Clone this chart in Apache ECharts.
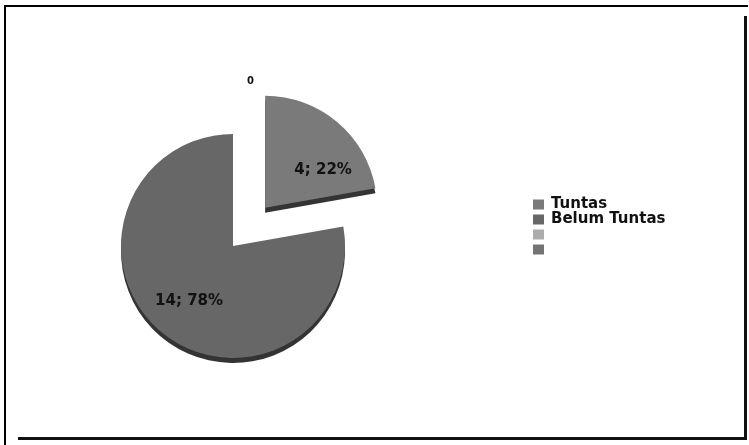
<!DOCTYPE html>
<html>
<head>
<meta charset="utf-8">
<style>
  html, body { margin: 0; padding: 0; background: #fff; }
  #chart { width: 749px; height: 445px; }
</style>
<script src="https://cdn.jsdelivr.net/npm/echarts@6/dist/echarts.min.js"></script>
</head>
<body>
<div id="chart"></div>
<script>
// Categories and counts of students
const categories = ['Tuntas', 'Belum Tuntas', ' ', '  '];
const counts = [4, 14, 0, '-'];
const sliceColors = ['#7a7a7a', '#676767', '#acacac', '#747474'];
const edgeColor = '#343434';

const center = [233, 246];
const radius = 112;
const depth = 5;

const chart = echarts.init(document.getElementById('chart'), null, { renderer: 'canvas' });

const faceData = categories.map((name, i) => {
  const item = {
    name: name,
    value: counts[i],
    itemStyle: { color: sliceColors[i] }
  };
  if (i === 0) item.selected = true;
  if (counts[i] === 0) {
    item.label = {
      position: 'outside',
      fontSize: 10,
      formatter: '{c}'
    };
    item.labelLine = { show: false, length: 56, length2: 0 };
  }
  return item;
});

const edgeData = categories.map((name, i) => ({
  name: name,
  value: counts[i],
  selected: i === 0,
  itemStyle: { color: edgeColor }
}));

// nudges for the labels so they sit where the tilted pie puts them
const labelNudges = [
  { dx: 20, dy: 8 },
  { dx: -6, dy: 10 },
  { dx: 19, dy: 3, align: 'left' },
  {}
];

const option = {
  backgroundColor: '#ffffff',
  animation: false,
  legend: {
    orient: 'vertical',
    left: 528,
    top: 192,
    itemWidth: 11,
    itemHeight: 10,
    itemGap: 0,
    icon: 'rect',
    data: categories,
    selectedMode: false,
    textStyle: {
      fontFamily: 'DejaVu Sans',
      fontWeight: 'bold',
      fontSize: 15,
      lineHeight: 14,
      color: '#111',
      padding: [0, 0, 0, 2]
    }
  },
  graphic: [
    { type: 'rect', shape: { x: 4, y: 5, width: 744, height: 2 }, style: { fill: '#000' } },
    { type: 'rect', shape: { x: 4, y: 5, width: 2, height: 440 }, style: { fill: '#000' } },
    { type: 'rect', shape: { x: 744, y: 16, width: 3, height: 424 }, style: { fill: '#111' } },
    { type: 'rect', shape: { x: 18, y: 437, width: 729, height: 3 }, style: { fill: '#111' } }
  ],
  series: [
    {
      type: 'pie',
      center: center,
      radius: radius,
      startAngle: 90,
      clockwise: true,
      selectedMode: 'single',
      selectedOffset: 50,
      emphasis: { disabled: true },
      label: {
        show: true,
        position: 'inner',
        fontFamily: 'DejaVu Sans',
        fontWeight: 'bold',
        fontSize: 15,
        color: '#111',
        formatter: function (p) {
          return p.value + '; ' + Math.round(p.percent) + '%';
        }
      },
      labelLine: { show: false },
      labelLayout: function (params) {
        return labelNudges[params.dataIndex] || {};
      },
      z: 2,
      data: faceData
    },
    {
      // side wall of the tilted pie
      type: 'pie',
      silent: true,
      center: [center[0], center[1] + depth],
      radius: radius,
      startAngle: 90,
      clockwise: true,
      selectedMode: 'single',
      selectedOffset: 50,
      label: { show: false },
      labelLine: { show: false },
      emphasis: { disabled: true },
      z: 1,
      data: edgeData
    }
  ]
};

chart.setOption(option);
</script>
</body>
</html>
